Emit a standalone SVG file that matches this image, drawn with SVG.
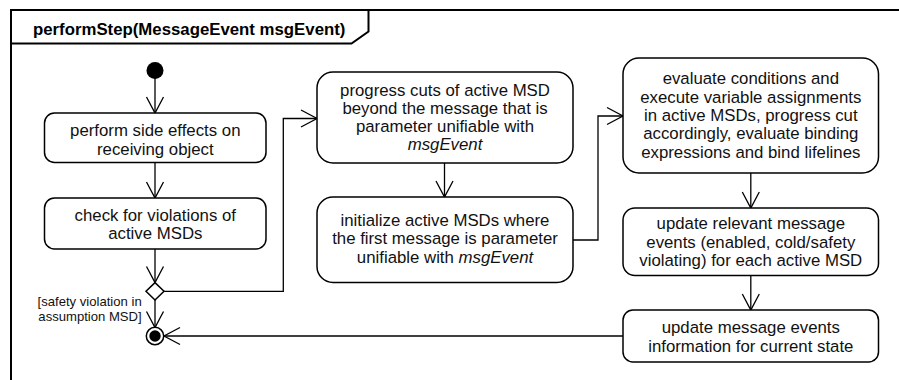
<svg xmlns="http://www.w3.org/2000/svg" width="899" height="380" viewBox="0 0 899 380">
<style>
.frame{fill:none;stroke:#000;stroke-width:2}
.box{fill:#fff;stroke:#000;stroke-width:1.5}
.t{font-family:"Liberation Sans",Arial,sans-serif;font-size:16.8px;fill:#111;text-anchor:middle}
.title{font-family:"Liberation Sans",Arial,sans-serif;font-size:16.8px;font-weight:bold;fill:#000}
.lbl{font-family:"Liberation Sans",Arial,sans-serif;font-size:13.1px;fill:#111;text-anchor:end}
.c{fill:none;stroke:#000;stroke-width:1.3;marker-end:url(#arr)}
.i{font-style:italic}
</style>
<defs>
<marker id="arr" markerUnits="userSpaceOnUse" markerWidth="20" markerHeight="20" refX="17" refY="9.5" orient="auto" overflow="visible">
<path d="M1,1 L17,9.5 L1,18" fill="none" stroke="#000" stroke-width="1.3"/>
</marker>
</defs>
<g id="frame">
<rect class="frame" x="11" y="10" width="920" height="400"/>
<path class="frame" d="M11,43.5 L351.5,43.5 L368.5,31.5 L368.5,10"/>
<text class="title" x="33" y="34.7">performStep(MessageEvent msgEvent)</text>
</g>
<g id="connectors">
<line class="c" x1="155" y1="78" x2="155" y2="113"/>
<line class="c" x1="155" y1="162.5" x2="155" y2="198"/>
<line class="c" x1="155" y1="249" x2="155" y2="282.5"/>
<line class="c" x1="155" y1="300" x2="155" y2="327.5"/>
<polyline class="c" points="164,291.3 283.3,291.3 283.3,118.5 317,118.5"/>
<line class="c" x1="444.5" y1="163" x2="444.5" y2="197"/>
<polyline class="c" points="573,240 598,240 598,116 623,116"/>
<line class="c" x1="750.8" y1="173" x2="750.8" y2="208"/>
<line class="c" x1="750.8" y1="275.5" x2="750.8" y2="310"/>
<line class="c" x1="623" y1="336" x2="164" y2="336"/>
</g>
<g id="initial">
<circle cx="155" cy="70.5" r="8.5" fill="#000"/>
</g>
<g id="perform-side-effects">
<rect class="box" x="44.5" y="113" width="221.5" height="49.5" rx="10"/>
<text class="t" x="155.3" y="136.3">perform side effects on</text>
<text class="t" x="155.3" y="154.6">receiving object</text>
</g>
<g id="check-violations">
<rect class="box" x="44.5" y="198" width="221.5" height="51" rx="10"/>
<text class="t" x="155.3" y="220.7">check for violations of</text>
<text class="t" x="155.3" y="239.2">active MSDs</text>
</g>
<g id="decision">
<polygon points="155,282.6 164,291.3 155,300 146,291.3" fill="#fff" stroke="#000" stroke-width="1.5"/>
<text class="lbl" x="141.7" y="305.7">[safety violation in</text>
<text class="lbl" x="141.7" y="320.7">assumption MSD]</text>
</g>
<g id="final">
<circle cx="155" cy="336" r="8.7" fill="#fff" stroke="#000" stroke-width="1.5"/>
<circle cx="155" cy="336" r="5.7" fill="#000"/>
</g>
<g id="progress-cuts">
<rect class="box" x="317" y="72" width="256" height="91" rx="16"/>
<text class="t" x="445" y="95.7">progress cuts of active MSD</text>
<text class="t" x="445" y="113.9">beyond the message that is</text>
<text class="t" x="445" y="132.1">parameter unifiable with</text>
<text class="t i" x="445" y="150.3">msgEvent</text>
</g>
<g id="initialize-msds">
<rect class="box" x="317" y="197" width="256" height="85.5" rx="16"/>
<text class="t" x="445" y="226">initialize active MSDs where</text>
<text class="t" x="445" y="244.4">the first message is parameter</text>
<text class="t" x="445" y="262.8">unifiable with <tspan class="i">msgEvent</tspan></text>
</g>
<g id="evaluate-conditions">
<rect class="box" x="623" y="58" width="255.5" height="115" rx="16"/>
<text class="t" x="750.8" y="84.2">evaluate conditions and</text>
<text class="t" x="750.8" y="102.6">execute variable assignments</text>
<text class="t" x="750.8" y="121">in active MSDs, progress cut</text>
<text class="t" x="750.8" y="139.4">accordingly, evaluate binding</text>
<text class="t" x="750.8" y="157.8">expressions and bind lifelines</text>
</g>
<g id="update-relevant">
<rect class="box" x="623" y="208" width="255.5" height="67.5" rx="12"/>
<text class="t" x="750.8" y="229">update relevant message</text>
<text class="t" x="750.8" y="247.5">events (enabled, cold/safety</text>
<text class="t" x="750.8" y="266">violating) for each active MSD</text>
</g>
<g id="update-info">
<rect class="box" x="623" y="310" width="255.5" height="52" rx="10"/>
<text class="t" x="750.8" y="333">update message events</text>
<text class="t" x="750.8" y="351.5">information for current state</text>
</g>
</svg>
